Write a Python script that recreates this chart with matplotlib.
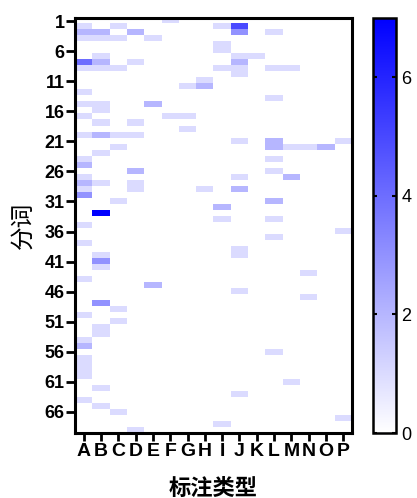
import numpy as np
import matplotlib
matplotlib.use("Agg")
import matplotlib.pyplot as plt
from matplotlib.colors import LinearSegmentedColormap

plt.rcParams["font.family"] = ["Liberation Sans", "Noto Sans CJK SC", "DejaVu Sans"]

# annotation types (columns) and word rows
col_labels = list("ABCDEFGHIJKLMNOP")
n_rows = 69
y_ticks = list(range(1, 67, 5))

# non-zero cells: row number, column letter, count
cell_rows = [
    1,
    2, 2, 2, 2,
    3, 3, 3, 3, 3,
    4, 4, 4, 4,
    5, 6,
    7, 7, 7,
    8, 8, 8, 8,
    9, 9, 9, 9, 9, 9, 9,
    10, 11, 12, 12, 13, 14,
    15, 15, 15,
    16,
    17, 17, 17,
    18, 18,
    19,
    20, 20, 20, 20,
    21, 21, 21,
    22, 22, 22, 22, 22,
    23,
    24, 24,
    25,
    26, 26,
    27, 27, 27,
    28, 28, 28,
    29, 29, 29, 29,
    30,
    31, 31,
    32, 33,
    34, 34,
    35, 36, 37, 38, 39,
    40, 40,
    41, 42, 43, 44, 45, 46, 47, 48, 49, 50, 51, 52, 53, 54, 55, 56,
    57, 58, 59, 60, 61, 62, 63, 64, 65, 66, 67, 68, 69,
]
cell_cols = [
    "F",
    "A", "C", "I", "J",
    "A", "B", "D", "J", "L",
    "A", "B", "C", "E",
    "I", "I",
    "B", "J", "K",
    "A", "B", "D", "J",
    "A", "B", "C", "I", "J", "L", "M",
    "J", "H", "G", "H", "A", "L",
    "A", "B", "E",
    "B",
    "A", "F", "G",
    "B", "D",
    "G",
    "A", "B", "C", "D",
    "J", "L", "P",
    "C", "L", "M", "N", "O",
    "B",
    "A", "L",
    "A",
    "D", "L",
    "A", "J", "M",
    "A", "B", "D",
    "A", "D", "H", "J",
    "A",
    "C", "L",
    "I", "B",
    "I", "L",
    "A", "P", "L", "A", "J",
    "B", "J",
    "B", "B", "N", "A", "E", "J", "N", "B", "C", "A", "C", "B", "B", "A", "A", "L",
    "A", "A", "A", "A", "M", "B", "J", "A", "B", "C", "P", "I", "D",
]
cell_counts = [
    1,
    1, 1, 1, 5,
    2, 2, 2, 3, 1,
    1, 1, 1, 1,
    1, 1,
    1, 1, 1,
    4, 2, 1, 2,
    1, 1, 1, 1, 1, 1, 1,
    1, 1, 1, 2, 1, 1,
    1, 1, 2,
    1,
    1, 1, 1,
    1, 1,
    1,
    1, 2, 1, 1,
    1, 2, 1,
    1, 2, 1, 1, 2,
    1,
    1, 1,
    2,
    2, 1,
    1, 1, 2,
    2, 1, 1,
    1, 1, 1, 2,
    3,
    1, 2,
    2, 7,
    1, 1,
    1, 1, 1, 1, 1,
    1, 1,
    3, 1, 1, 1, 2, 1, 1, 3, 1, 1, 1, 1, 1, 1, 2, 1,
    1, 1, 1, 1, 1, 1, 1, 1, 1, 1, 1, 1, 1,
]

grid = np.zeros((n_rows, len(col_labels)))
for r, c, v in zip(cell_rows, cell_cols, cell_counts):
    grid[r - 1, col_labels.index(c)] = v

cmap = LinearSegmentedColormap.from_list("wb", ["#ffffff", "#0000ff"])

fig = plt.figure(figsize=(4.17, 4.98), dpi=100)
ax = fig.add_axes([75 / 417, 1 - 433 / 498, 277 / 417, 415 / 498])
im = ax.imshow(grid, cmap=cmap, vmin=0, vmax=7, aspect="auto",
               interpolation="nearest",
               extent=(-0.5, len(col_labels) - 0.5, n_rows + 0.5, 0.5))

ax.set_xticks(range(len(col_labels)))
ax.set_xticklabels(col_labels, fontsize=14, fontweight="bold")
ax.set_yticks(y_ticks)
ax.set_yticklabels([str(t) for t in y_ticks], fontsize=13, fontweight="bold")
ax.tick_params(axis="x", length=6, width=2, pad=1.5)
ax.tick_params(axis="y", length=6.5, width=2, pad=1)
for s in ax.spines.values():
    s.set_linewidth(2.2)

ax.set_xlabel("标注类型", fontsize=16, fontweight="bold",
              family=["Noto Sans CJK SC"], labelpad=12)
ax.set_ylabel("分词", fontsize=17, fontweight="normal",
              family=["Noto Sans CJK SC"], labelpad=7)

cax = fig.add_axes([373 / 417, 1 - 433 / 498, 23 / 417, 415 / 498])
cb = fig.colorbar(im, cax=cax, ticks=[0, 2, 4, 6])
cb.outline.set_linewidth(1.8)
cax.tick_params(direction="in", left=True, right=True, length=3, width=1.5,
                labelsize=13, pad=4)

fig.savefig("out.png", dpi=100)
